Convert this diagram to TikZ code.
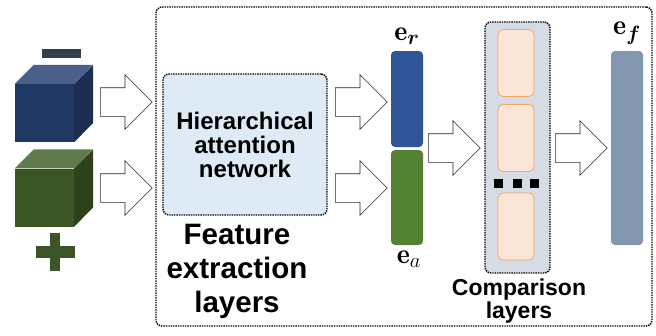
\documentclass[tikz,border=0pt]{standalone}
\usepackage{amsmath}
\usepackage{amssymb}
\usepackage{fontspec}
\usepackage{tikz}
\usetikzlibrary{shapes,calc}
\newfontfamily\arialfont{Liberation Sans}
\definecolor{cubeblue}{HTML}{203864}
\definecolor{cubebluetop}{HTML}{4B5F88}
\definecolor{cubeblueside}{HTML}{1B2D50}
\definecolor{cubegreen}{HTML}{3A5424}
\definecolor{cubegreentop}{HTML}{5F7B4C}
\definecolor{cubegreenside}{HTML}{2C4319}
\definecolor{minuscol}{HTML}{333F50}
\definecolor{pluscol}{HTML}{3B5526}
\definecolor{hanfill}{HTML}{DEEBF7}
\definecolor{cmpfill}{HTML}{D6DCE5}
\definecolor{layerfill}{HTML}{FBE5D6}
\definecolor{layerline}{HTML}{F4A55E}
\definecolor{barblue}{HTML}{2F5597}
\definecolor{bargreen}{HTML}{548235}
\definecolor{bargray}{HTML}{8497B0}

\begin{document}
\begin{tikzpicture}[x=1pt,y=-1pt]
\tikzstyle{panel}=[rectangle, rounded corners=6pt, draw=black, densely dotted, line width=1.4pt, inner sep=0pt]
\tikzstyle{bar}=[rectangle, rounded corners=4pt, inner sep=0pt, minimum width=32pt]
\tikzstyle{layer}=[rectangle, rounded corners=5pt, draw=layerline, thick, fill=layerfill, inner sep=0pt, minimum width=36pt, minimum height=67pt]
\tikzstyle{bigarrow}=[single arrow, anchor=tail, draw=black!85, fill=white, semithick, inner sep=0pt, minimum height=52pt, single arrow head extend=13pt]
\tikzstyle{cube}=[rectangle, inner sep=0pt, minimum width=59pt, minimum height=58pt]
\tikzstyle{title}=[font=\arialfont\bfseries, align=center, inner sep=0pt]
\tikzstyle{vec}=[inner sep=0pt, font=\fontsize{28}{28}\selectfont]
\tikzstyle{dot}=[rectangle, fill=black, inner sep=0pt, minimum size=9pt]
\newcommand{\shaft}{\rule{0pt}{28pt}}

\useasboundingbox (0,0) rectangle (656,335);

\node[panel, minimum width=496pt, minimum height=319pt] (outer) at (404,166.5) {};

% input cubes
\node[cube, fill=cubeblue] (cubeR) at (44.5,113) {};
\fill[cubebluetop] (cubeR.north west) -- ++(19,-19) -- ++(59,0) -- (cubeR.north east) -- cycle;
\fill[cubeblueside] (cubeR.north east) -- ++(19,-19) -- ++(0,58) -- (cubeR.south east) -- cycle;
\node[rectangle, fill=minuscol, inner sep=0pt, minimum width=39pt, minimum height=9pt] (minus) at (61.5,53.5) {};

\node[cube, fill=cubegreen] (cubeA) at (44.5,197.5) {};
\fill[cubegreentop] (cubeA.north west) -- ++(19,-19) -- ++(59,0) -- (cubeA.north east) -- cycle;
\fill[cubegreenside] (cubeA.north east) -- ++(19,-19) -- ++(0,58) -- (cubeA.south east) -- cycle;
\node[rectangle, fill=pluscol, inner sep=0pt, minimum width=39pt, minimum height=12pt] (plusH) at (55,252) {};
\node[rectangle, fill=pluscol, inner sep=0pt, minimum width=10pt, minimum height=38pt] (plusV) at (55,252) {};

\node[bigarrow] (inR) at (100,102) {\shaft};
\node[bigarrow] (inA) at (100,188) {\shaft};

% feature extraction
\node[panel, fill=hanfill, minimum width=164pt, minimum height=141pt] (han) at (245,144.5) {};
\node[title, font=\arialfont\bfseries\fontsize{24}{24}\selectfont] (hantext) at (han) {Hierarchical\\attention\\network};
\node[title, font=\arialfont\bfseries\fontsize{29.5}{34}\selectfont] (feat) at (237,271) {Feature\\extraction\\layers};

\node[bigarrow] (outR) at (335,102) {\shaft};
\node[bigarrow] (outA) at (335,188) {\shaft};

\node[bar, fill=barblue, minimum height=96pt] (eR) at (407,99) {};
\node[bar, fill=bargreen, minimum height=95pt] (eA) at (407,197.5) {};
\node[vec] (lblR) at (407,36) {$\mathbf{e}_{\boldsymbol{r}}$};
\node[vec] (lblA) at (409,259) {$\mathbf{e}_{a}$};

\node[bigarrow] (toCmp) at (428,148) {\shaft};

% comparison
\node[panel, fill=cmpfill, minimum width=65pt, minimum height=251pt] (cmp) at (517.5,147.5) {};
\node[layer] (L1) at (516,63) {};
\node[layer] (L2) at (516,138) {};
\node[layer] (L3) at (516,226.5) {};
\node[dot] (d1) at (498.5,183) {};
\node[dot] (d2) at (517.5,183) {};
\node[dot] (d3) at (534.5,183) {};
\node[title, font=\arialfont\bfseries\fontsize{23}{23}\selectfont] (cmptext) at (519,301) {Comparison\\layers};

\node[bigarrow] (toF) at (555,148) {\shaft};

\node[bar, fill=bargray, minimum height=194pt] (eF) at (627,148) {};
\node[vec] (lblF) at (627,33) {$\mathbf{e}_{\boldsymbol{f}}$};

\end{tikzpicture}
\end{document}
